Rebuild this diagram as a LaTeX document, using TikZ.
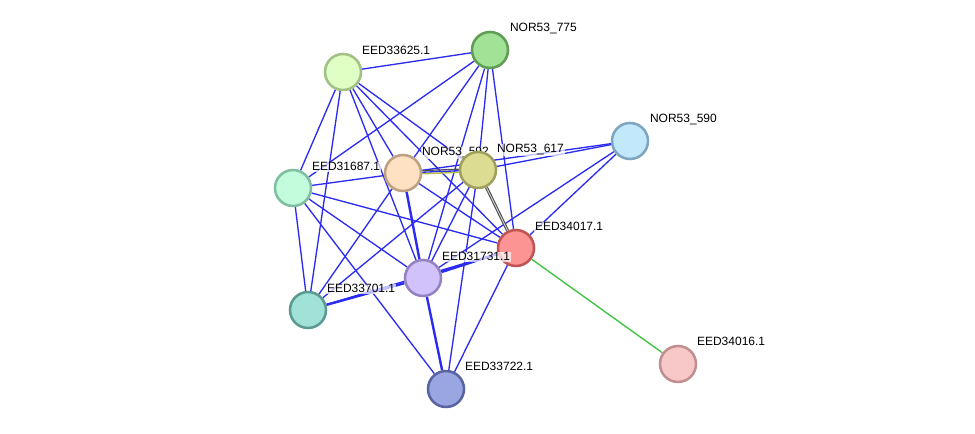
\documentclass[tikz,border=0pt]{standalone}
\usepackage{fontspec}
\setmainfont{Liberation Sans}
\usetikzlibrary{calc}
\definecolor{eb}{HTML}{2B2BF2}
\definecolor{eg}{HTML}{3CC23C}
\definecolor{egray}{HTML}{505050}
\definecolor{eolive}{HTML}{B4C040}
\definecolor{fA}{HTML}{E0FFC4}\definecolor{bA}{HTML}{A0C084}
\definecolor{fB}{HTML}{A2E296}\definecolor{bB}{HTML}{5E9E52}
\definecolor{fC}{HTML}{C2E8FC}\definecolor{bC}{HTML}{7EA6C0}
\definecolor{fD}{HTML}{C2FCDC}\definecolor{bD}{HTML}{80BEA0}
\definecolor{fE}{HTML}{FEE0C2}\definecolor{bE}{HTML}{BEA082}
\definecolor{fF}{HTML}{DCDC92}\definecolor{bF}{HTML}{A0A05E}
\definecolor{fG}{HTML}{FC9494}\definecolor{bG}{HTML}{C05454}
\definecolor{fH}{HTML}{D2C2FC}\definecolor{bH}{HTML}{9482C0}
\definecolor{fI}{HTML}{A0E2D8}\definecolor{bI}{HTML}{5A9A90}
\definecolor{fJ}{HTML}{9AA6E2}\definecolor{bJ}{HTML}{5A64A0}
\definecolor{fK}{HTML}{F8C8C8}\definecolor{bK}{HTML}{C09090}
\pgfdeclarelayer{bg}
\pgfsetlayers{bg,main}
\begin{document}
\begin{tikzpicture}[x=0.75pt,y=-0.75pt,
  prot/.style={circle,minimum size=27pt,inner sep=0pt,line width=1.9pt},
  lbl/.style={font=\fontsize{9}{10}\selectfont,anchor=base west,inner sep=0.6pt,fill=white,fill opacity=0.7,text opacity=1},
  ed/.style={draw=eb,line width=1pt},
  edt/.style={draw=eb,line width=1.8pt},
  edg/.style={draw=eg,line width=1pt}]
\useasboundingbox (0,0) rectangle (975,434);
% nodes
\node[prot,fill=fA,draw=bA] (A) at (343,72) {};
\node[lbl] (lA) at ($(A)+(18,-17)$) {EED33625.1};
\node[prot,fill=fB,draw=bB] (B) at (490,50) {};
\node[lbl] (lB) at ($(B)+(19,-18)$) {NOR53\_775};
\node[prot,fill=fC,draw=bC] (C) at (630,141) {};
\node[lbl] (lC) at ($(C)+(19,-18)$) {NOR53\_590};
\node[prot,fill=fD,draw=bD] (D) at (293,188) {};
\node[lbl] (lD) at ($(D)+(18,-17)$) {EED31687.1};
\node[prot,fill=fE,draw=bE] (E) at (403,173) {};
\node[lbl] (lE) at ($(E)+(18,-17)$) {NOR53\_592};
\node[prot,fill=fF,draw=bF] (F) at (478,170) {};
\node[lbl] (lF) at ($(F)+(18,-17)$) {NOR53\_617};
\node[prot,fill=fG,draw=bG] (G) at (516,248) {};
\node[lbl] (lG) at ($(G)+(18,-17)$) {EED34017.1};
\node[prot,fill=fH,draw=bH] (H) at (423,278) {};
\node[lbl] (lH) at ($(H)+(18,-17)$) {EED31731.1};
\node[prot,fill=fI,draw=bI] (I) at (308,310) {};
\node[lbl] (lI) at ($(I)+(18,-17)$) {EED33701.1};
\node[prot,fill=fJ,draw=bJ] (J) at (446,389) {};
\node[lbl] (lJ) at ($(J)+(18,-18)$) {EED33722.1};
\node[prot,fill=fK,draw=bK] (K) at (678,364) {};
\node[lbl] (lK) at ($(K)+(18,-18)$) {EED34016.1};
% edges
\begin{pgfonlayer}{bg}
\draw[ed] (A) -- (B);
\draw[ed] (A) -- (D);
\draw[ed] (A) -- (I);
\draw[ed] (A) -- (E);
\draw[ed] (A) -- (F);
\draw[ed] (A) -- (G);
\draw[ed] (A) -- (H);
\draw[ed] (B) -- (D);
\draw[ed] (B) -- (E);
\draw[ed] (B) -- (F);
\draw[ed] (B) -- (G);
\draw[ed] (B) -- (H);
\draw[ed] (C) -- (E);
\draw[ed] (C) -- (F);
\draw[ed] (C) -- (G);
\draw[ed] (C) -- (H);
\draw[ed] (D) -- (E);
\draw[ed] (D) -- (G);
\draw[ed] (D) -- (H);
\draw[ed] (D) -- (I);
\draw[ed] (D) -- (J);
\draw[ed] (E) -- (G);
\draw[edt] (E) -- (H);
\draw[ed] (E) -- (I);
\draw[ed] (E) -- (F);
\draw[draw=eolive,line width=1pt,transform canvas={yshift=-1.2pt}] (E) -- (F);
\draw[draw=egray,line width=0.9pt,transform canvas={yshift=1.2pt}] (E) -- (F);
\draw[draw=egray,line width=0.8pt,double=gray!40,double distance=0.7pt] (F) -- (G);
\draw[ed] (F) -- (H);
\draw[ed] (F) -- (I);
\draw[ed] (F) -- (J);
\draw[edt] (G) -- (H);
\draw[ed] (G) -- (I);
\draw[ed] (G) -- (J);
\draw[edt] (H) -- (I);
\draw[edt] (H) -- (J);
\draw[edg] (G) -- (K);
\end{pgfonlayer}
\end{tikzpicture}
\end{document}
